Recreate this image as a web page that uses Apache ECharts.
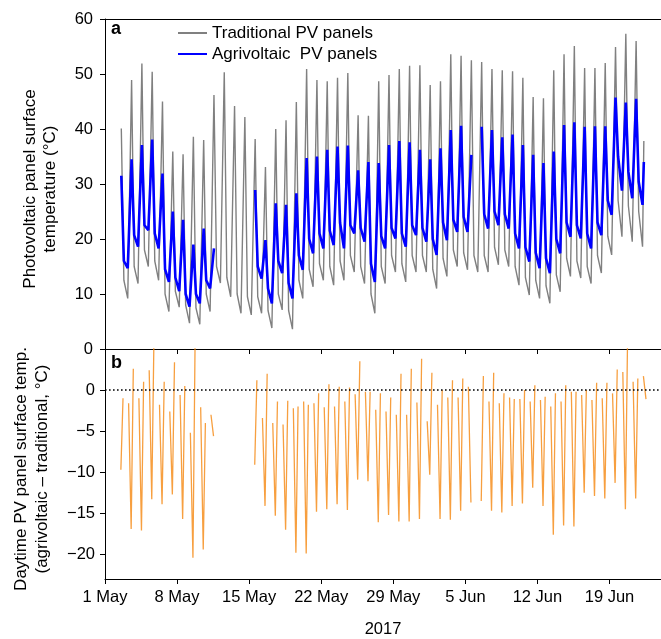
<!DOCTYPE html>
<html>
<head>
<meta charset="utf-8">
<script src="https://cdn.jsdelivr.net/npm/echarts@6/dist/echarts.min.js"></script>
<style>
html, body { margin: 0; padding: 0; background: #fff; }
#chart { width: 661px; height: 639px; }
</style>
</head>
<body>
<div id="chart"></div>
<script>
// ---------------- data ----------------
// Daily arrays: index 0 = 2 May 2017 ... index 51 = 22 Jun 2017
const firstDay = '2017-05-02';

// Traditional PV panels (°C)
const tradMin = [null, 9.2, 11.9, 15.0, 12.5, 6.8, 7.6, 4.7, 4.5, 6.8, 12.0, 9.5, 6.5, 6.2, 6.5, 3.8, 7.1, 3.6, 9.2, 11.3, 12.5, 11.6, 12.5, 14.0, 11.9, 6.5, 11.9, 14.0, 12.2, 14.0, 14.0, 11.0, 13.2, 15.0, 14.4, 14.0, 14.0, 15.3, 15.0, 11.6, 9.8, 9.2, 8.3, 10.4, 13.2, 12.9, 11.9, 13.8, 17.1, 20.4, 19.5, 18.6];
const tradMax = [40.1, 48.9, 51.9, 50.4, 45.0, 35.9, 35.4, 38.6, 38.0, 46.2, 50.3, 44.2, 42.2, 38.2, 33.1, 40.0, 41.6, 44.9, 50.9, 48.9, 48.7, 49.3, 50.2, 42.5, 42.4, 48.7, 49.8, 50.9, 51.5, 51.6, 48.0, 48.7, 53.6, 53.3, 52.5, 52.2, 50.9, 50.7, 50.5, 49.3, 45.8, 45.6, 50.7, 53.6, 55.1, 51.1, 51.1, 52.0, 54.9, 57.3, 56.0, null];
const tradEve = [12.5, 15, 18, 16, 10, 10.5, 8, 7.5, 10, 15, 13, 10, 9.5, 9.5, 7, 10, 7, 12.5, 14.5, 15.5, 15, 16, 17, 15, 10, 15, 17, 15.5, 17, 17, 14.5, 16.5, 18, 17.5, 17, 17, 18.5, 18, 15, 13, 12.5, 11.5, 13.5, 16.5, 16, 15, 17, 20.5, 27, 26, 25, null];
const tradLast = 37.8;   // last reading, 22 Jun 08:00

// Agrivoltaic PV panels (°C)
const agriMin = [null, 14.7, 18.6, 21.6, 18.3, 12.2, 10.5, 7.7, 8.3, 11.0, null, null, null, null, 12.8, 8.3, 13.8, 9.2, 14.4, 17.4, 18.3, 18.9, 18.3, 21.0, 19.5, 12.2, 18.3, 20.1, 18.6, 20.7, 19.5, 17.1, 19.8, 21.3, 21.3, null, 21.9, 22.5, 21.9, 18.3, 15.9, 14.7, 13.8, 17.4, 20.4, 20.1, 18.3, 20.7, 24.4, 28.8, 27.4, 26.2];
const agriMax = [31.5, 34.5, 37.1, 38.1, 31.9, 25.0, 23.5, 19.0, 21.9, 18.3, null, null, null, 28.9, 19.8, 26.5, 26.2, 28.3, 34.7, 35.0, 36.2, 36.8, 37.0, 32.5, 34.0, 33.8, 37.1, 37.8, 37.6, 36.2, 34.5, 36.5, 39.8, 40.6, 35.3, 40.4, 39.8, 38.5, 39.0, 37.1, 35.3, 33.8, 35.9, 40.7, 41.2, 40.4, 40.5, 40.5, 45.7, 44.8, 45.5, null];
const agriEve = [16, 20.7, 22.5, 21, 14.5, 13, 10, 10, 12.5, null, null, null, null, 15, 11, 16, 12, 17, 20, 21, 21.5, 22.9, 22.5, 22, 15.5, 20.5, 22, 21, 22.5, 22, 20, 23, 23.5, 24, null, 24.5, 25, 24.5, 21, 18.5, 17.5, 16.5, 20, 23, 22.5, 21, 23, 27, 35, 32.2, 30.4, null];
const agriLast = 34.0;   // last reading, 22 Jun 08:00

// Daytime difference agrivoltaic − traditional (°C): morning, midday, evening
const diffMorning = [null, -1.6, -1.0, 2.4, -1.8, -2.6, -0.6, -5.2, -2.1, -3.0, null, null, null, null, -3.4, -4.0, -4.2, -2.2, -1.4, -1.6, -2.1, -2.0, -1.4, -0.5, -0.2, -2.4, -2.6, -3.0, -3.0, -1.5, -3.8, -1.8, -0.9, -0.9, 0.4, null, -1.4, -1.6, -0.9, -1.1, -1.4, -1.2, -2.0, -1.4, -0.2, -0.6, -1.2, -1.0, -0.4, 2.2, 1.0, 1.7];
const diffMidday = [-9.7, -16.9, -17.1, -13.3, -13.9, -12.7, -15.7, -20.4, -19.4, -5.6, null, null, null, -9.1, -14.1, -15.3, -17.0, -19.8, -19.9, -14.8, -14.5, -13.9, -14.6, -10.9, -11.1, -16.1, -15.2, -16.0, -16.0, -15.7, -10.3, -15.7, -15.8, -14.7, -13.7, -13.5, -14.7, -14.9, -14.1, -13.8, -11.9, -14.1, -17.6, -16.5, -16.6, -12.5, -12.9, -13.2, -11.3, -14.5, -13.2, -1.1];
const diffEvening = [-1.0, 2.6, 1.0, 6.0, 1.0, 3.4, 0.5, 6.0, -4.0, null, null, null, null, 1.2, 2.0, -1.4, -1.3, -2.0, -1.8, -0.4, 0.7, 0.4, 0.3, 3.5, -0.2, -0.4, -0.9, 2.0, 2.6, 3.8, 2.1, 0.0, 1.2, 1.4, null, 1.7, 2.1, -0.4, -1.1, 0.0, 0.6, -0.8, -0.4, 0.6, -0.2, 0.0, 0.9, 0.9, 2.5, 6.0, 1.4, null];

// Axes
const xStart = '2017-05-01';
const xEnd = '2017-06-24';
const tickDates = ['2017-05-01', '2017-05-08', '2017-05-15', '2017-05-22', '2017-05-29', '2017-06-05', '2017-06-12', '2017-06-19'];
const tickLabels = ['1 May', '8 May', '15 May', '22 May', '29 May', '5 Jun', '12 Jun', '19 Jun'];
const tempTicks = [0, 10, 20, 30, 40, 50, 60];
const diffTicks = [-20, -15, -10, -5, 0];
const seriesNames = ['Traditional PV panels', 'Agrivoltaic  PV panels'];

// ---------------- build ----------------
const FONT = "'Liberation Sans', Arial, Helvetica, sans-serif";
const DAY = 86400000;
function utcOf(s) { return Date.UTC(+s.slice(0, 4), +s.slice(5, 7) - 1, +s.slice(8, 10)); }
// x values are days (fractional) since xStart 00:00
function dayOf(s) { return Math.round((utcOf(s) - utcOf(xStart)) / DAY); }
const firstOffset = dayOf(firstDay);
function at(i, h) { return firstOffset + i + h / 24; }
const nDays = tradMin.length;

function tempSeries(mins, maxs, eves, last) {
  const out = [];
  for (let i = 0; i < nDays; i++) {
    out.push([at(i, 5), mins[i]]);
    if (i === nDays - 1) { out.push([at(i, 8), last]); break; }
    out.push([at(i, 14), maxs[i]]);
    out.push([at(i, 20), eves[i]]);
  }
  return out;
}
function diffSeries() {
  const out = [];
  for (let i = 0; i < nDays; i++) {
    out.push([at(i, 7), diffMorning[i]]);
    out.push([at(i, 13), diffMidday[i]]);
    out.push([at(i, 18), diffEvening[i]]);
    out.push([at(i, 23), null]);
  }
  return out;
}

const tickDays = tickDates.map(dayOf);
function labelFor(v) {
  const k = tickDays.findIndex(t => Math.abs(t - v) < 0.01);
  return k >= 0 ? tickLabels[k] : '';
}

const axisLineStyle = { color: '#000', width: 1 };
function xAxisCfg(gridIndex, showLabels) {
  return {
    type: 'value', gridIndex: gridIndex,
    min: dayOf(xStart), max: dayOf(xEnd),
    splitLine: { show: false },
    axisLine: { show: true, onZero: false, lineStyle: axisLineStyle },
    axisTick: { show: true, customValues: tickDays, length: 5, lineStyle: axisLineStyle },
    axisLabel: {
      show: showLabels, customValues: tickDays, formatter: labelFor,
      fontSize: 16.5, color: '#000', margin: 10, fontFamily: FONT
    },
    name: showLabels ? '2017' : '',
    nameLocation: 'middle', nameGap: 42,
    nameTextStyle: { fontSize: 16.5, color: '#000', fontFamily: FONT }
  };
}
// top frame line of panel a
const topFrame = {
  type: 'value', gridIndex: 0, position: 'top',
  min: dayOf(xStart), max: dayOf(xEnd),
  splitLine: { show: false },
  axisLine: { show: true, onZero: false, lineStyle: axisLineStyle },
  axisTick: { show: false }, axisLabel: { show: false }
};

const chart = echarts.init(document.getElementById('chart'));
chart.setOption({
  animation: false,
  backgroundColor: '#fff',
  textStyle: { fontFamily: FONT },
  grid: [
    { left: 105, right: 0, top: 19, height: 330 },
    { left: 105, right: 0, top: 349, height: 234 }
  ],
  xAxis: [xAxisCfg(0, false), xAxisCfg(1, true), topFrame],
  yAxis: [
    {
      type: 'value', gridIndex: 0, min: 0, max: 60, interval: 10,
      splitLine: { show: false },
      axisLine: { show: true, lineStyle: axisLineStyle },
      axisTick: { show: true, length: 5, customValues: tempTicks, lineStyle: axisLineStyle },
      axisLabel: { customValues: tempTicks, fontSize: 16.5, color: '#000', margin: 12, fontFamily: FONT },
      name: 'Photovoltaic panel surface\ntemperature (°C)',
      nameLocation: 'middle', nameRotate: 90, nameGap: 45,
      nameTextStyle: { fontSize: 17, lineHeight: 20, color: '#000', fontFamily: FONT, padding: [0, 10, 0, 0] }
    },
    {
      type: 'value', gridIndex: 1, min: -23, max: 5,
      splitLine: { show: false },
      axisLine: { show: true, lineStyle: axisLineStyle },
      axisTick: { show: true, length: 5, customValues: diffTicks, lineStyle: axisLineStyle },
      axisLabel: {
        customValues: diffTicks, fontSize: 16.5, color: '#000', margin: 10, fontFamily: FONT,
        formatter: v => String(v).replace('-', '\u2212')
      },
      name: 'Daytime PV panel surface temp.\n(agrivoltaic \u2013 traditional, °C)',
      nameLocation: 'middle', nameRotate: 90, nameGap: 52,
      nameTextStyle: { fontSize: 17, lineHeight: 21, color: '#000', fontFamily: FONT, padding: [0, 10, 0, 0] }
    }
  ],
  legend: {
    data: seriesNames,
    orient: 'vertical',
    left: 172, top: 18,
    itemWidth: 29, itemHeight: 14, itemGap: 1,
    itemStyle: { opacity: 0 },
    textStyle: { fontSize: 17, lineHeight: 20, color: '#000', fontFamily: FONT },
    selectedMode: false
  },
  graphic: [
    { type: 'text', left: 111, top: 20, style: { text: 'a', font: "bold 18px 'Liberation Sans', Arial, sans-serif", fill: '#000' } },
    { type: 'text', left: 111, top: 354, style: { text: 'b', font: "bold 18px 'Liberation Sans', Arial, sans-serif", fill: '#000' } }
  ],
  series: [
    {
      name: seriesNames[0], type: 'line', xAxisIndex: 0, yAxisIndex: 0,
      data: tempSeries(tradMin, tradMax, tradEve, tradLast),
      symbol: 'none', connectNulls: false, z: 2,
      lineStyle: { color: '#808080', width: 1.4 }, itemStyle: { color: '#808080' }
    },
    {
      name: seriesNames[1], type: 'line', xAxisIndex: 0, yAxisIndex: 0,
      data: tempSeries(agriMin, agriMax, agriEve, agriLast),
      symbol: 'none', connectNulls: false, z: 3,
      lineStyle: { color: '#0000ff', width: 2.6 }, itemStyle: { color: '#0000ff' }
    },
    {
      name: 'difference', type: 'line', xAxisIndex: 1, yAxisIndex: 1,
      data: diffSeries(),
      symbol: 'none', connectNulls: false, z: 2,
      lineStyle: { color: '#f5870f', width: 1.3, opacity: 0.8 },
      markLine: {
        silent: true, symbol: ['none', 'none'], label: { show: false },
        lineStyle: { color: '#000', type: [1.6, 2.4], width: 1.6 },
        data: [{ yAxis: 0 }]
      }
    }
  ]
});
</script>
</body>
</html>
